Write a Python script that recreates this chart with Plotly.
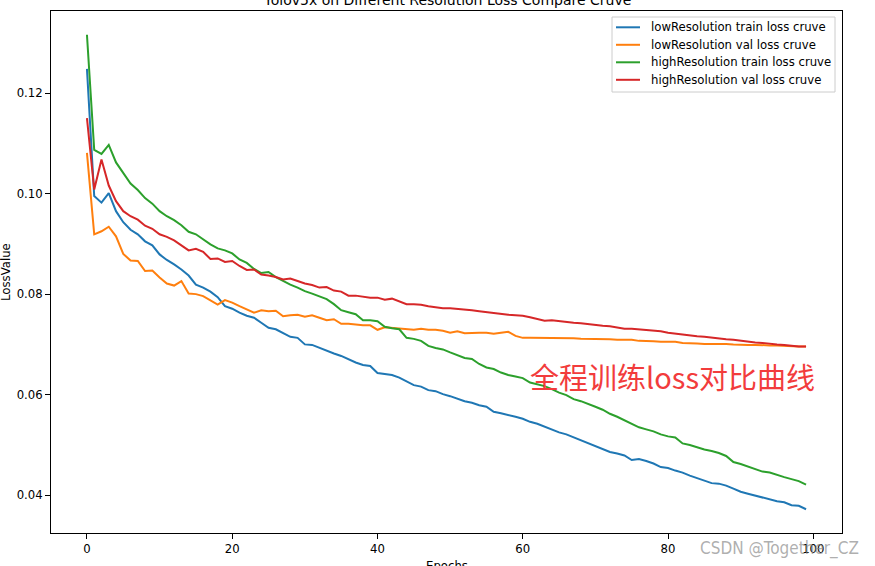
import plotly.graph_objects as go

# ---------------- data ----------------
epochs = list(range(100))

low_train = [0.1248, 0.0995, 0.0982, 0.1001, 0.0965, 0.0943, 0.0928, 0.0919, 0.0905, 0.0897,
             0.0879, 0.0868, 0.0859, 0.0849, 0.0837, 0.0819, 0.0813, 0.0805, 0.0794, 0.0776,
             0.0771, 0.0763, 0.0757, 0.0753, 0.0743, 0.0733, 0.0730, 0.0723, 0.0715, 0.0713,
             0.0700, 0.0699, 0.0693, 0.0688, 0.0682, 0.0677, 0.0670, 0.0664, 0.0659, 0.0657,
             0.0643, 0.0641, 0.0639, 0.0634, 0.0626, 0.0619, 0.0616, 0.0609, 0.0607, 0.0601,
             0.0597, 0.0592, 0.0587, 0.0584, 0.0579, 0.0576, 0.0566, 0.0563, 0.0560, 0.0556,
             0.0552, 0.0546, 0.0542, 0.0536, 0.0531, 0.0525, 0.0521, 0.0515, 0.0510, 0.0503,
             0.0498, 0.0491, 0.0486, 0.0483, 0.0479, 0.0470, 0.0472, 0.0468, 0.0463, 0.0456,
             0.0454, 0.0449, 0.0445, 0.0439, 0.0434, 0.0428, 0.0424, 0.0423, 0.0419, 0.0413,
             0.0407, 0.0403, 0.0399, 0.0396, 0.0392, 0.0388, 0.0386, 0.0380, 0.0379, 0.0372]

low_val = [0.1081, 0.0919, 0.0925, 0.0934, 0.0915, 0.0880, 0.0867, 0.0866, 0.0846, 0.0847,
           0.0833, 0.0821, 0.0817, 0.0826, 0.0801, 0.0800, 0.0796, 0.0788, 0.0779, 0.0788,
           0.0783, 0.0776, 0.0770, 0.0763, 0.0768, 0.0766, 0.0767, 0.0756, 0.0758, 0.0759,
           0.0755, 0.0758, 0.0753, 0.0748, 0.0750, 0.0741, 0.0741, 0.0739, 0.0738, 0.0738,
           0.0729, 0.0734, 0.0733, 0.0731, 0.0730, 0.0729, 0.0731, 0.0729, 0.0729, 0.0727,
           0.0723, 0.0726, 0.0722, 0.0723, 0.0723, 0.0723, 0.0721, 0.0723, 0.0725, 0.0717,
           0.0713, 0.0713, 0.0713, 0.0713, 0.0712, 0.0713, 0.0712, 0.0712, 0.0711, 0.0711,
           0.0711, 0.0711, 0.0710, 0.0709, 0.0709, 0.0709, 0.0707, 0.0707, 0.0706, 0.0705,
           0.0705, 0.0705, 0.0703, 0.0703, 0.0702, 0.0701, 0.0701, 0.0702, 0.0701, 0.0700,
           0.0699, 0.0699, 0.0699, 0.0698, 0.0698, 0.0698, 0.0697, 0.0697, 0.0696, 0.0696]

high_train = [0.1316, 0.1087, 0.1079, 0.1097, 0.1062, 0.1040, 0.1020, 0.1007, 0.0991, 0.0980,
              0.0965, 0.0955, 0.0947, 0.0937, 0.0924, 0.0919, 0.0909, 0.0899, 0.0891, 0.0887,
              0.0881, 0.0869, 0.0862, 0.0850, 0.0842, 0.0844, 0.0834, 0.0826, 0.0819, 0.0813,
              0.0806, 0.0801, 0.0795, 0.0790, 0.0780, 0.0768, 0.0764, 0.0760, 0.0748, 0.0748,
              0.0746, 0.0735, 0.0732, 0.0730, 0.0713, 0.0711, 0.0707, 0.0697, 0.0693, 0.0690,
              0.0684, 0.0678, 0.0673, 0.0671, 0.0661, 0.0654, 0.0651, 0.0644, 0.0639, 0.0636,
              0.0633, 0.0624, 0.0621, 0.0617, 0.0611, 0.0604, 0.0599, 0.0591, 0.0587, 0.0582,
              0.0576, 0.0570, 0.0562, 0.0556, 0.0549, 0.0543, 0.0535, 0.0531, 0.0527, 0.0521,
              0.0517, 0.0515, 0.0503, 0.0500, 0.0495, 0.0491, 0.0488, 0.0484, 0.0478, 0.0466,
              0.0462, 0.0457, 0.0451, 0.0447, 0.0445, 0.0440, 0.0436, 0.0432, 0.0428, 0.0421]

high_val = [0.1150, 0.1008, 0.1068, 0.1016, 0.0985, 0.0965, 0.0955, 0.0948, 0.0936, 0.0930,
            0.0919, 0.0914, 0.0907, 0.0897, 0.0887, 0.0890, 0.0884, 0.0870, 0.0871, 0.0864,
            0.0866, 0.0856, 0.0848, 0.0849, 0.0839, 0.0837, 0.0834, 0.0829, 0.0831, 0.0826,
            0.0821, 0.0818, 0.0813, 0.0814, 0.0807, 0.0805, 0.0797, 0.0797, 0.0795, 0.0793,
            0.0793, 0.0789, 0.0791, 0.0786, 0.0780, 0.0780, 0.0779, 0.0776, 0.0774, 0.0772,
            0.0772, 0.0771, 0.0770, 0.0768, 0.0766, 0.0764, 0.0763, 0.0761, 0.0759, 0.0758,
            0.0757, 0.0754, 0.0751, 0.0747, 0.0748, 0.0746, 0.0744, 0.0743, 0.0742, 0.0740,
            0.0739, 0.0737, 0.0736, 0.0734, 0.0731, 0.0731, 0.0730, 0.0728, 0.0728, 0.0726,
            0.0723, 0.0721, 0.0719, 0.0717, 0.0716, 0.0715, 0.0713, 0.0711, 0.0710, 0.0709,
            0.0707, 0.0705, 0.0704, 0.0703, 0.0701, 0.0700, 0.0699, 0.0697, 0.0696, 0.0696]

series_names = ["lowResolution train loss cruve", "lowResolution val loss cruve",
                "highResolution train loss cruve", "highResolution val loss cruve"]
series_values = [low_train, low_val, high_train, high_val]
series_colors = ["#1f77b4", "#ff7f0e", "#2ca02c", "#d62728"]

x_ticks = [0, 20, 40, 60, 80, 100]
y_ticks = [0.04, 0.06, 0.08, 0.10, 0.12]
y_tick_labels = ["0.04", "0.06", "0.08", "0.10", "0.12"]

title_text = "Yolov5x on Different Resolution Loss Compare Cruve"
x_label = "Epochs"
y_label = "LossValue"
note_text = "全程训练loss对比曲线"
watermark = "CSDN @Together_CZ"

# ---------------- layout geometry ----------------
W, H = 875, 566
L, R, T, B = 51, 842, 11, 533   # plot area in pixels


def px(x):
    return (x - L) / (R - L)


def py(y):
    return (B - y) / (B - T)


FONT = "DejaVu Sans"
FS = 11.7

fig = go.Figure()
for name, vals, color in zip(series_names, series_values, series_colors):
    fig.add_trace(go.Scatter(x=epochs, y=vals, mode="lines", name=name,
                             line=dict(color=color, width=2), showlegend=False))

all_vals = [v for s in series_values for v in s]
ymin, ymax = min(all_vals), max(all_vals)
ypad = 0.05 * (ymax - ymin)
xmin, xmax = min(epochs), max(epochs)
xpad = 0.05 * (xmax - xmin)

fig.update_layout(
    width=W, height=H,
    margin=dict(l=L, r=W - R, t=T, b=H - B, pad=0),
    paper_bgcolor="white", plot_bgcolor="white",
    font=dict(family=FONT, size=FS, color="black"),
    showlegend=False,
)
axis_common = dict(showgrid=False, zeroline=False, showline=True, linecolor="black",
                   linewidth=1, mirror=True, ticks="outside", ticklen=5, tickwidth=1,
                   tickcolor="black", automargin=False,
                   tickfont=dict(family=FONT, size=FS, color="black"))
fig.update_xaxes(range=[xmin - xpad, xmax + xpad], tickvals=x_ticks,
                 ticktext=[str(t) for t in x_ticks], **axis_common)
fig.update_yaxes(range=[ymin - ypad, ymax + ypad], tickvals=y_ticks,
                 ticktext=y_tick_labels, **axis_common)

annotations = []
shapes = []

# title (cut off at top in reference)
annotations.append(dict(text=title_text, x=px(447), y=py(9.5), xref="paper", yref="paper",
                        xanchor="center", yanchor="bottom", showarrow=False,
                        font=dict(family=FONT, size=14, color="black")))
# axis labels
annotations.append(dict(text=x_label, x=px(447), y=py(557), xref="paper", yref="paper",
                        xanchor="center", yanchor="top", showarrow=False,
                        font=dict(family=FONT, size=FS, color="black")))
annotations.append(dict(text=y_label, x=px(6), y=py(272), xref="paper", yref="paper",
                        xanchor="center", yanchor="middle", textangle=-90, showarrow=False,
                        font=dict(family=FONT, size=FS, color="black")))

# legend (matplotlib style, upper right)
lx0, lx1, ly0, ly1 = 612, 835, 17, 92
shapes.append(dict(type="rect", xref="paper", yref="paper",
                   x0=px(lx0), x1=px(lx1), y0=py(ly1), y1=py(ly0),
                   line=dict(color="#cccccc", width=1), fillcolor="white", layer="above"))
entry_y = [27.3, 44.8, 62.3, 79.8]
for name, color, ey in zip(series_names, series_colors, entry_y):
    shapes.append(dict(type="line", xref="paper", yref="paper",
                       x0=px(616), x1=px(640), y0=py(ey), y1=py(ey),
                       line=dict(color=color, width=2), layer="above"))
    annotations.append(dict(text=name, x=px(649), y=py(ey), xref="paper", yref="paper",
                            xanchor="left", yanchor="middle", showarrow=False,
                            font=dict(family=FONT, size=FS, color="black")))

# red chinese note
annotations.append(dict(text=note_text, x=px(672), y=py(376), xref="paper", yref="paper",
                        xanchor="center", yanchor="middle", showarrow=False,
                        font=dict(family="Noto Sans CJK SC", size=29, color="#f23c3c")))
# watermark
annotations.append(dict(text=watermark, x=px(861), y=py(548), xref="paper", yref="paper",
                        xanchor="right", yanchor="middle", showarrow=False,
                        font=dict(family="Liberation Sans Narrow, DejaVu Sans Condensed, sans-serif",
                                  size=17, color="rgba(140,140,140,0.7)")))

fig.update_layout(annotations=annotations, shapes=shapes)
fig.write_html("out.html", config={"displayModeBar": False},
               post_script="document.body.style.margin='0px';document.body.style.overflow='hidden';")
